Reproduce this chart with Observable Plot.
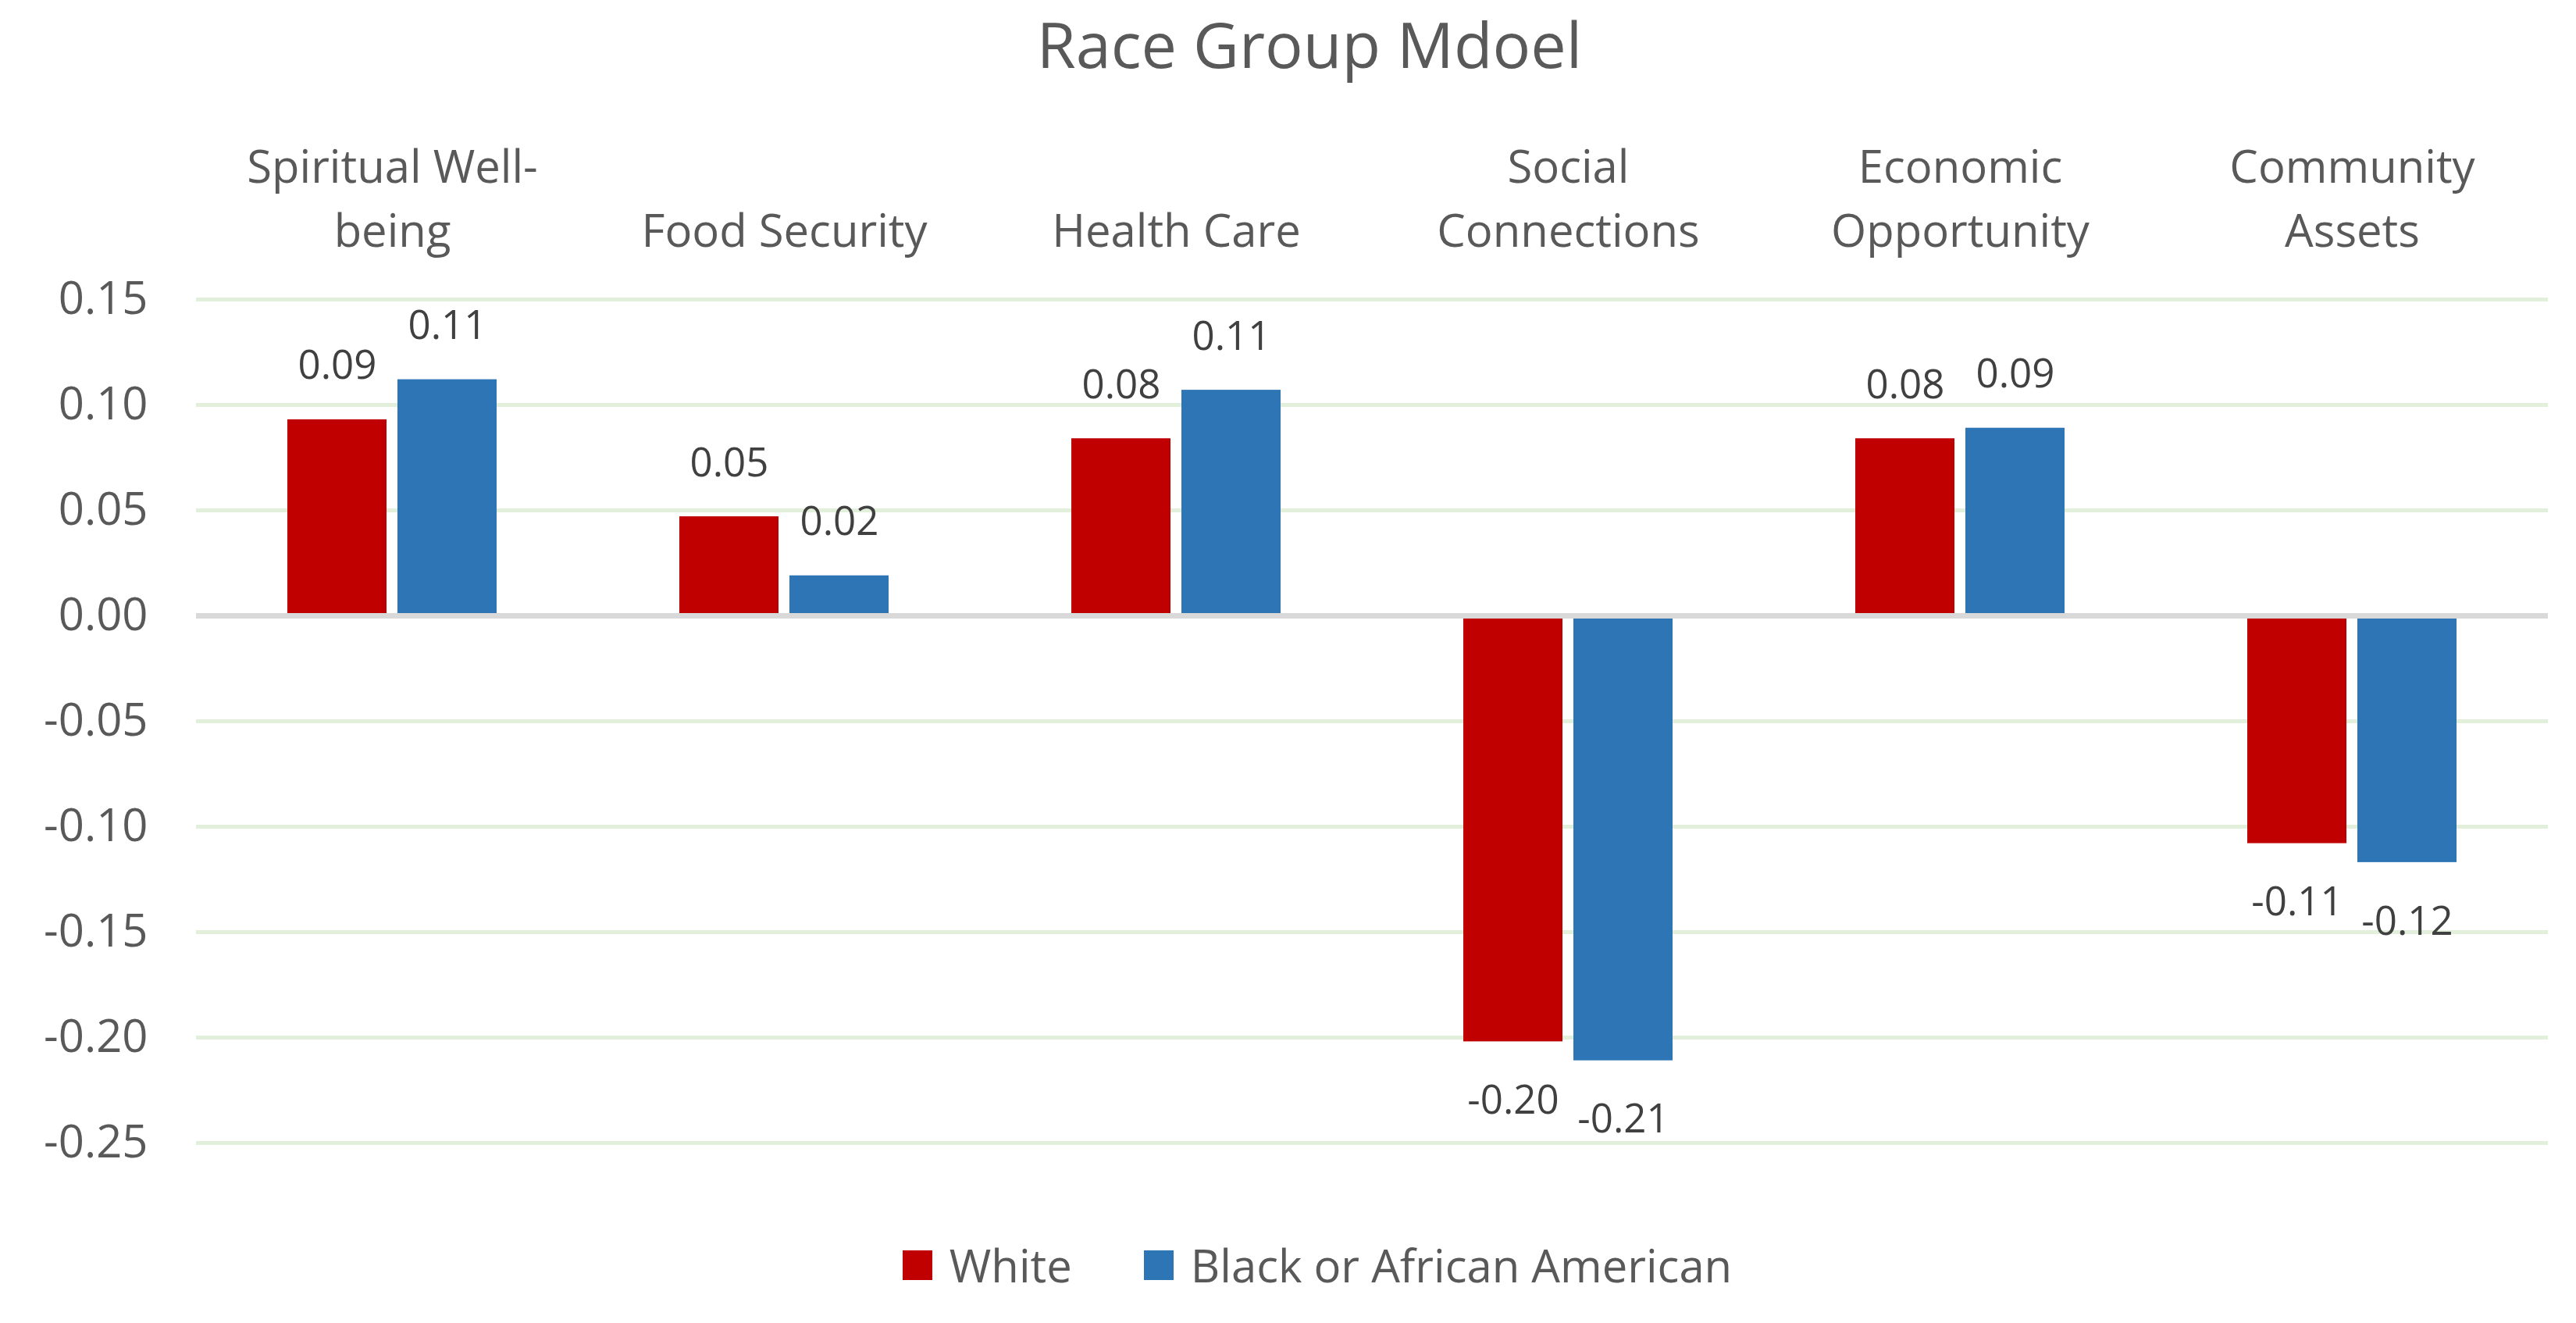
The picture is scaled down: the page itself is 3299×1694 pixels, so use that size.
<!DOCTYPE html>
<html>
<head>
<meta charset="utf-8">
<script src="https://cdn.jsdelivr.net/npm/d3@7"></script>
<script src="https://cdn.jsdelivr.net/npm/@observablehq/plot@0.6"></script>
<style>
  html, body { margin: 0; padding: 0; background: #fff; overflow: hidden; width: 3299px; height: 1694px; }
  #title { height: 130px; box-sizing: border-box; padding-top: 15px; padding-left: 55px; text-align: center;
           font-family: "Open Sans", sans-serif; font-size: 81px; line-height: 81px; color: #595959; white-space: nowrap; }
  #chart svg { display: block; }
  #legend { height: 164px; box-sizing: border-box; padding-top: 71px; padding-left: 75px; display: flex;
            justify-content: center; align-items: flex-start; gap: 92px;
            font-family: "Open Sans", sans-serif; font-size: 58px; color: #595959; }
  .item { display: flex; align-items: center; height: 38px; line-height: 38px; white-space: nowrap; }
  .sw { width: 38px; height: 38px; margin-right: 22px; }
</style>
</head>
<body>
<div id="title">Race Group Mdoel</div>
<div id="chart"></div>
<div id="legend"></div>
<script>
const categories = ["Spiritual Well-being", "Food Security", "Health Care", "Social Connections", "Economic Opportunity", "Community Assets"];
const categoryLabels = ["Spiritual Well-\nbeing", "Food Security", "Health Care", "Social\nConnections", "Economic\nOpportunity", "Community\nAssets"];
const series = ["White", "Black or African American"];
const whiteValues = [0.093, 0.047, 0.084, -0.202, 0.084, -0.108];
const blackValues = [0.112, 0.019, 0.107, -0.211, 0.089, -0.117];
const seriesColors = ["#C00000", "#2E75B6"];
const yTicks = [0.15, 0.10, 0.05, 0.00, -0.05, -0.10, -0.15, -0.20, -0.25];

const rows = categories.flatMap((c, i) => [
  {category: c, series: series[0], value: whiteValues[i]},
  {category: c, series: series[1], value: blackValues[i]}
]);
const labelOf = new Map(categories.map((c, i) => [c, categoryLabels[i]]));
const fmt = v => v.toFixed(2);

const chart = Plot.plot({
  width: 3299,
  height: 1400,
  marginTop: 253,
  marginBottom: 67,
  marginLeft: 250,
  marginRight: 35,
  style: {fontFamily: '"Open Sans", sans-serif', fontSize: "58px", color: "#595959", background: "#fff", overflow: "visible"},
  fx: {domain: categories, padding: 0, label: null},
  x: {domain: series, paddingInner: 0.1, paddingOuter: 0.83, axis: null},
  y: {domain: [-0.25, 0.15], axis: null, label: null},
  color: {domain: series, range: seriesColors},
  marks: [
    Plot.gridY(yTicks, {stroke: "#E2EFDA", strokeWidth: 5, strokeOpacity: 1}),
    Plot.axisY(yTicks, {tickSize: 0, tickPadding: 62, tickFormat: fmt, fontSize: 58, fill: "#595959", label: null}),
    Plot.axisFx({anchor: "top", tickSize: 0, tickPadding: 68, tickFormat: d => labelOf.get(d), lineHeight: 1.414, fontSize: 58, fill: "#595959", label: null}),
    Plot.barY(rows, {fx: "category", x: "series", y: "value", fill: "series"}),
    Plot.ruleY([0], {stroke: "#D9D9D9", strokeWidth: 7}),
    Plot.text(rows.filter(d => d.value >= 0), {fx: "category", x: "series", y: "value", text: d => fmt(d.value),
      lineAnchor: "bottom", dy: -52, fontSize: 51, fill: "#404040"}),
    Plot.text(rows.filter(d => d.value < 0), {fx: "category", x: "series", y: "value", text: d => fmt(d.value),
      lineAnchor: "top", dy: 56, fontSize: 51, fill: "#404040"})
  ]
});
document.getElementById("chart").appendChild(chart);

const legend = document.getElementById("legend");
series.forEach((s, i) => {
  const item = document.createElement("div");
  item.className = "item";
  const sw = document.createElement("div");
  sw.className = "sw";
  sw.style.background = seriesColors[i];
  const t = document.createElement("span");
  t.textContent = s;
  item.appendChild(sw);
  item.appendChild(t);
  legend.appendChild(item);
});
</script>
</body>
</html>
